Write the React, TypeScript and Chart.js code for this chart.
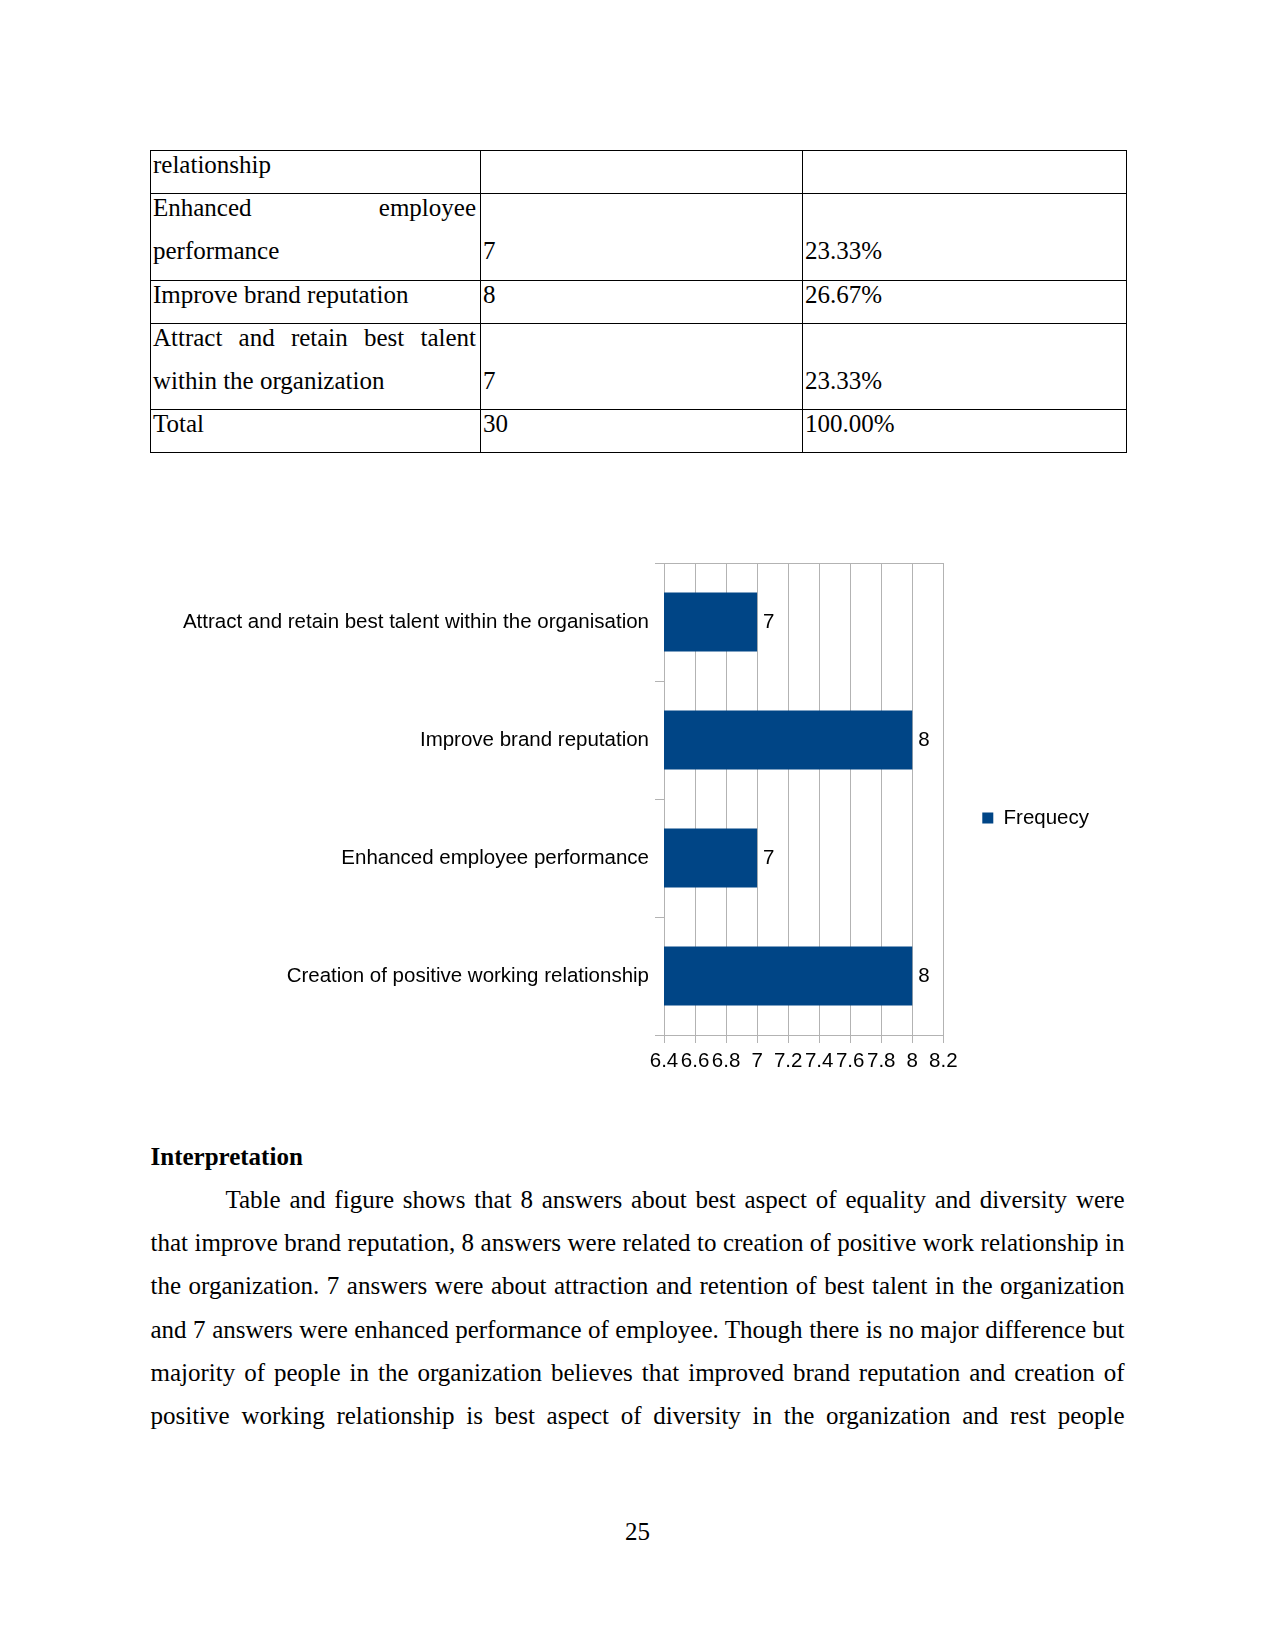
import React, { useEffect, useRef } from "react";
import { Chart, registerables } from "chart.js";

Chart.register(...registerables);

// ---------- chart data ----------
const categories = [
  "Attract and retain best talent within the organisation",
  "Improve brand reputation",
  "Enhanced employee performance",
  "Creation of positive working relationship",
];
const frequency = [7, 8, 7, 8];
const seriesName = "Frequecy";
const xTicks = [6.4, 6.6, 6.8, 7, 7.2, 7.4, 7.6, 7.8, 8, 8.2];

// ---------- table data ----------
const tableCol1 = [
  ["relationship"],
  ["Enhanced employee", "performance"],
  ["Improve brand reputation"],
  ["Attract and retain best talent", "within the organization"],
  ["Total"],
];
const tableCol2 = [[""], ["", "7"], ["8"], ["", "7"], ["30"]];
const tableCol3 = [[""], ["", "23.33%"], ["26.67%"], ["", "23.33%"], ["100.00%"]];

// ---------- text ----------
const heading = "Interpretation";
const paragraphLines = [
  "Table and figure shows that 8 answers about best aspect of equality and diversity were",
  "that improve brand reputation, 8 answers were related to creation of positive work relationship in",
  "the organization. 7 answers were about attraction and retention of best talent in the organization",
  "and 7 answers were enhanced performance of employee. Though there is no major difference but",
  "majority of people in the organization believes that improved brand reputation and creation of",
  "positive working relationship is best aspect of diversity in the organization and rest people",
];
const pageNumber = "25";

const SANS = "'Liberation Sans', Arial, sans-serif";
const SERIF = "'Liberation Serif', 'Times New Roman', serif";
const CHART_FONT_SIZE = 20.5;
const BAR_COLOR = "#004586";
const GRID = "#b3b3b3";

const valueLabels = {
  id: "valueLabels",
  afterDatasetsDraw(chart: any) {
    const { ctx } = chart;
    const meta = chart.getDatasetMeta(0);
    const values = chart.data.datasets[0].data;
    ctx.save();
    ctx.font = `${CHART_FONT_SIZE}px ${SANS}`;
    ctx.fillStyle = "#000";
    ctx.textAlign = "left";
    ctx.textBaseline = "middle";
    meta.data.forEach((bar: any, i: number) => {
      ctx.fillText(String(values[i]), bar.x + 6, bar.y);
    });
    ctx.restore();
  },
};

function BarChart() {
  const ref = useRef<HTMLCanvasElement>(null);
  useEffect(() => {
    const font = { family: SANS, size: CHART_FONT_SIZE };
    const chart = new Chart(ref.current as HTMLCanvasElement, {
      type: "bar",
      data: {
        labels: categories,
        datasets: [
          {
            label: seriesName,
            data: frequency,
            backgroundColor: BAR_COLOR,
            borderWidth: 0,
            barPercentage: 0.5,
            categoryPercentage: 1,
          },
        ],
      },
      options: {
        indexAxis: "y",
        animation: false,
        responsive: false,
        devicePixelRatio: 1,
        layout: { padding: { top: 20, bottom: 10, left: 0, right: 0 } },
        plugins: {
          legend: {
            position: "right",
            labels: {
              boxWidth: 11,
              boxHeight: 11,
              padding: 39,
              color: "#000",
              font,
            },
          },
          tooltip: { enabled: false },
        },
        scales: {
          x: {
            type: "linear",
            min: xTicks[0],
            max: xTicks[xTicks.length - 1],
            afterBuildTicks: (scale: any) => {
              scale.ticks = xTicks.map((v) => ({ value: v }));
            },
            afterFit: (scale: any) => {
              scale.height = 38;
              scale.paddingLeft = 0;
              scale.paddingRight = 0;
            },
            ticks: {
              autoSkip: false,
              maxRotation: 0,
              minRotation: 0,
              padding: 6,
              color: "#000",
              font,
              callback: (v: any) => String(parseFloat(Number(v).toFixed(2))),
            },
            grid: { color: GRID, tickColor: GRID, tickLength: 8 },
            border: { color: GRID },
          },
          y: {
            afterFit: (scale: any) => {
              scale.width = 514;
              scale.paddingTop = 0;
              scale.paddingBottom = 0;
            },
            ticks: { padding: 6, color: "#000", font, autoSkip: false },
            grid: {
              offset: true,
              color: (ctx: any) =>
                ctx.index === 0 || ctx.index === undefined ? GRID : "rgba(0,0,0,0)",
              tickColor: GRID,
              tickLength: 9,
            },
            border: { color: GRID },
          },
        },
      } as any,
      plugins: [valueLabels],
    });
    return () => chart.destroy();
  }, []);
  return (
    <canvas
      ref={ref}
      width={949}
      height={540}
      style={{ position: "absolute", left: 150, top: 543, width: 949, height: 540 }}
    />
  );
}

function TextLine(props: {
  x: number;
  baseline: number;
  width: number;
  text: string;
  justify?: boolean;
  bold?: boolean;
  indent?: number;
  center?: boolean;
}) {
  const { x, baseline, width, text, justify, bold, indent, center } = props;
  return (
    <div
      style={{
        position: "absolute",
        left: x,
        top: baseline - 22.8,
        width,
        height: 28.75,
        lineHeight: "28.75px",
        fontSize: 25,
        fontFamily: SERIF,
        color: "#000",
        fontWeight: bold ? "bold" : "normal",
        textAlign: center ? "center" : justify ? "justify" : "left",
        textAlignLast: center ? "center" : justify ? "justify" : "left",
        textIndent: indent || 0,
        whiteSpace: justify ? "normal" : "nowrap",
      } as any}
    >
      {text}
    </div>
  );
}

const rowLines = [150, 193, 280, 323, 409, 452];
const colLines = [150, 480, 802, 1126];

function Table() {
  const els: any[] = [];
  rowLines.forEach((y, i) => {
    els.push(
      <div
        key={"h" + i}
        style={{ position: "absolute", left: colLines[0], top: y, width: colLines[3] - colLines[0] + 1, height: 1, background: "#000" }}
      />
    );
  });
  colLines.forEach((x, i) => {
    els.push(
      <div
        key={"v" + i}
        style={{ position: "absolute", left: x, top: rowLines[0], width: 1, height: rowLines[5] - rowLines[0] + 1, background: "#000" }}
      />
    );
  });
  const cols = [tableCol1, tableCol2, tableCol3];
  cols.forEach((col, c) => {
    col.forEach((lines, r) => {
      lines.forEach((t, li) => {
        if (!t) return;
        const justify = c === 0 && lines.length > 1 && li === 0;
        els.push(
          <TextLine
            key={`t${c}-${r}-${li}`}
            x={colLines[c] + 3}
            baseline={rowLines[r] + 23.8 + li * 43.3}
            width={c === 0 ? 323 : 300}
            text={t}
            justify={justify}
          />
        );
      });
    });
  });
  return <>{els}</>;
}

export default function App() {
  return (
    <div
      style={{
        position: "absolute",
        left: 0,
        top: 0,
        width: 1275,
        height: 1650,
        background: "#fff",
        overflow: "hidden",
      }}
    >
      <Table />
      <BarChart />
      <TextLine x={150.5} baseline={1166} width={600} text={heading} bold />
      {paragraphLines.map((t, i) => (
        <TextLine
          key={i}
          x={150.5}
          baseline={1209 + i * 43.1}
          width={974}
          text={t}
          justify
          indent={i === 0 ? 75 : 0}
        />
      ))}
      <TextLine x={537.5} baseline={1541} width={200} text={pageNumber} center />
    </div>
  );
}
